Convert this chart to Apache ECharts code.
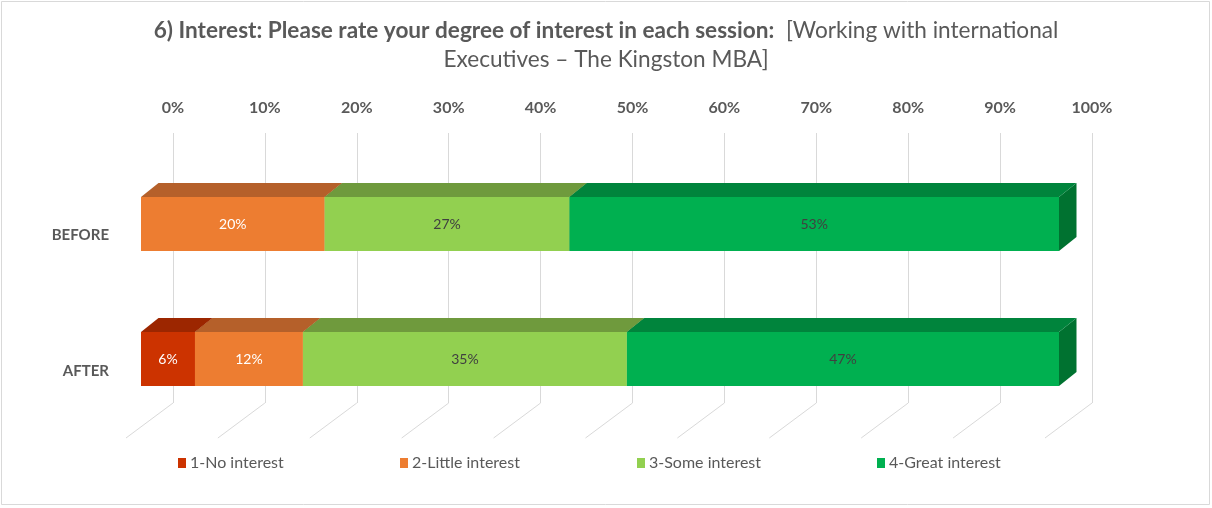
<!DOCTYPE html>
<html><head><meta charset="utf-8">
<script src="https://cdn.jsdelivr.net/npm/echarts@6/dist/echarts.min.js"></script>
<style>html,body{margin:0;padding:0;background:#fff}#c{width:1212px;height:508px}</style>
</head><body><div id="c"></div>
<script>
// ---- data ----
const categories = ['BEFORE', 'AFTER'];
const seriesNames = ['1-No interest', '2-Little interest', '3-Some interest', '4-Great interest'];
const noInterest = [0, 5.88];
const littleInterest = [20, 11.76];
const someInterest = [26.67, 35.29];
const greatInterest = [53.33, 47.07];
const tickValues = [0, 10, 20, 30, 40, 50, 60, 70, 80, 90, 100];

// ---- styles ----
const FONT = 'Lato';
const frontColors = ['#CC3300', '#ED7D31', '#92D050', '#00B050'];
const topColors = ['#9C2600', '#B5602A', '#6F9A3D', '#00843C'];
const sideColors = ['#8A2200', '#9E5020', '#5F8533', '#007230'];
const labelColors = ['#FFFFFF', '#FFFFFF', '#404040', '#404040'];
const legendLeft = [178, 400, 637, 877];

const allValues = [noInterest, littleInterest, someInterest, greatInterest];

// build stacked start/end items
function buildData(k) {
  return categories.map((c, ci) => {
    let start = 0;
    for (let j = 0; j < k; j++) start += allValues[j][ci];
    const v = allValues[k][ci];
    return [start, start + v, ci, v];
  });
}

const DX = 17.5, DY = -14;
function renderBar(k) {
  return function (params, api) {
    const s = api.value(0), e = api.value(1), ci = api.value(2), v = api.value(3);
    if (!(v > 0)) return null;
    const p0 = api.coord([s, ci]);
    const p1 = api.coord([e, ci]);
    const h = api.size([0, 1])[1] * 0.4;
    const top = p0[1] - h / 2, bot = p0[1] + h / 2;
    const x0 = p0[0], x1 = p1[0];
    return {
      type: 'group',
      children: [
        { type: 'polygon', shape: { points: [[x1, top], [x1 + DX, top + DY], [x1 + DX, bot + DY], [x1, bot]] },
          style: { fill: sideColors[k] } },
        { type: 'polygon', shape: { points: [[x0, top], [x0 + DX, top + DY], [x1 + DX, top + DY], [x1, top]] },
          style: { fill: topColors[k] } },
        { type: 'rect', shape: { x: x0, y: top, width: x1 - x0, height: h },
          style: { fill: frontColors[k] } },
        { type: 'text', x: (x0 + x1) / 2, y: (top + bot) / 2,
          style: { text: Math.round(v) + '%', fill: labelColors[k], font: '14px ' + FONT,
                   align: 'center', verticalAlign: 'middle' } }
      ]
    };
  };
}

function renderFloor(params, api) {
  const p = api.coord([api.value(0), 0]);
  return { type: 'line', shape: { x1: p[0], y1: p[1], x2: p[0] - 47, y2: p[1] + 35 },
           style: { stroke: '#D9D9D9', lineWidth: 1 } };
}

const series = seriesNames.map((name, k) => ({
  name: name,
  type: 'custom',
  xAxisIndex: 0, yAxisIndex: 0,
  renderItem: renderBar(k),
  itemStyle: { color: frontColors[k] },
  encode: { x: [0, 1], y: 2 },
  data: buildData(k),
  z: 3
}));
series.push({
  type: 'custom', xAxisIndex: 1, yAxisIndex: 1,
  renderItem: renderFloor, silent: true, z: 1,
  encode: { x: 0 },
  data: tickValues.map(v => [v])
});

const option = {
  animation: false,
  backgroundColor: '#fff',
  title: {
    text: '{b|6) Interest: Please rate your degree of interest in each session:}{n|  [Working with international}\n{n|Executives – The Kingston MBA]}',
    left: 'center', top: 11,
    textStyle: {
      rich: {
        b: { fontFamily: FONT, fontWeight: 'bold', fontSize: 22.6, color: '#595959', lineHeight: 29 },
        n: { fontFamily: FONT, fontWeight: 'normal', fontSize: 22.6, color: '#595959', lineHeight: 29 }
      }
    }
  },
  graphic: [{
    type: 'rect', shape: { x: 1.5, y: 1.5, width: 1208, height: 503 },
    style: { fill: null, stroke: '#D9D9D9', lineWidth: 1 }, z: 0
  }],
  legend: seriesNames.map((n, i) => ({
    data: [n], left: legendLeft[i], top: 455, icon: 'rect',
    itemWidth: 8, itemHeight: 10, itemGap: 5, padding: 0,
    textStyle: { fontFamily: FONT, fontSize: 16, color: '#595959', padding: [0, 0, 0, -1] }
  })),
  grid: [
    { left: 141, width: 918, top: 156.5, height: 270 },
    { left: 173, width: 919, top: 133, height: 270 },
    { left: 141, width: 918, top: 167.5, height: 272 }
  ],
  xAxis: [
    { gridIndex: 0, type: 'value', min: 0, max: 100, interval: 10, show: false },
    { gridIndex: 1, type: 'value', min: 0, max: 100, interval: 10, position: 'top',
      axisLine: { show: false }, axisTick: { show: false },
      splitLine: { show: true, lineStyle: { color: '#D9D9D9', width: 1 } },
      axisLabel: { formatter: '{value}%', margin: 17, fontFamily: FONT, fontWeight: 'bold',
                   fontSize: 16, color: '#595959' } },
    { gridIndex: 2, type: 'value', min: 0, max: 100, show: false }
  ],
  yAxis: [
    { gridIndex: 0, type: 'category', data: categories, inverse: true, show: false },
    { gridIndex: 1, type: 'value', min: 0, max: 1, show: false },
    { gridIndex: 2, type: 'category', data: categories, inverse: true,
      axisLine: { show: false }, axisTick: { show: false }, splitLine: { show: false },
      axisLabel: { margin: 32, fontFamily: FONT, fontWeight: 'bold', fontSize: 15, color: '#595959' } }
  ],
  series: series
};

const chart = echarts.init(document.getElementById('c'), null, { renderer: 'canvas' });
chart.setOption(option);
</script>
</body></html>
